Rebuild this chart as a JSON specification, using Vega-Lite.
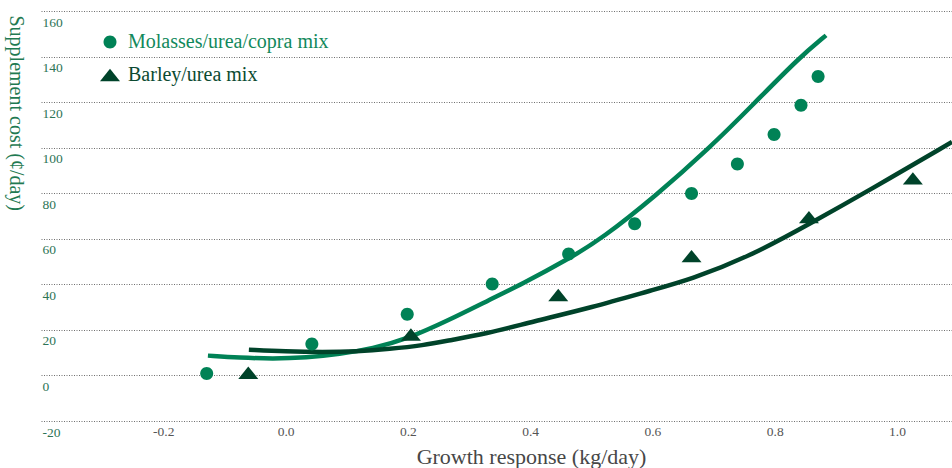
{
  "$schema": "https://vega.github.io/schema/vega-lite/v6.json",
  "width": 911,
  "height": 410,
  "autosize": {"type": "none"},
  "padding": {"left": 41, "top": 11, "right": 0, "bottom": 47},
  "background": "white",
  "config": {"view": {"stroke": null}, "font": "Liberation Serif"},
  "datasets": {
    "curves": [
      {"series": "Molasses/urea/copra mix", "x": -0.127, "y": 8.7},
      {"series": "Molasses/urea/copra mix", "x": -0.075, "y": 7.8},
      {"series": "Molasses/urea/copra mix", "x": -0.021, "y": 7.3},
      {"series": "Molasses/urea/copra mix", "x": 0.034, "y": 7.8},
      {"series": "Molasses/urea/copra mix", "x": 0.088, "y": 9.3},
      {"series": "Molasses/urea/copra mix", "x": 0.143, "y": 11.9},
      {"series": "Molasses/urea/copra mix", "x": 0.197, "y": 15.8},
      {"series": "Molasses/urea/copra mix", "x": 0.268, "y": 24.4},
      {"series": "Molasses/urea/copra mix", "x": 0.334, "y": 33.3},
      {"series": "Molasses/urea/copra mix", "x": 0.386, "y": 40},
      {"series": "Molasses/urea/copra mix", "x": 0.465, "y": 51.5},
      {"series": "Molasses/urea/copra mix", "x": 0.517, "y": 60},
      {"series": "Molasses/urea/copra mix", "x": 0.606, "y": 79},
      {"series": "Molasses/urea/copra mix", "x": 0.692, "y": 99.5},
      {"series": "Molasses/urea/copra mix", "x": 0.765, "y": 119},
      {"series": "Molasses/urea/copra mix", "x": 0.84, "y": 139.5},
      {"series": "Molasses/urea/copra mix", "x": 0.884, "y": 149.3},
      {"series": "Barley/urea mix", "x": -0.06, "y": 11.3},
      {"series": "Barley/urea mix", "x": 0.0, "y": 10.5},
      {"series": "Barley/urea mix", "x": 0.061, "y": 10.2},
      {"series": "Barley/urea mix", "x": 0.116, "y": 10.5},
      {"series": "Barley/urea mix", "x": 0.17, "y": 11.6},
      {"series": "Barley/urea mix", "x": 0.225, "y": 13.2},
      {"series": "Barley/urea mix", "x": 0.27, "y": 15.5},
      {"series": "Barley/urea mix", "x": 0.328, "y": 18.3},
      {"series": "Barley/urea mix", "x": 0.405, "y": 23.7},
      {"series": "Barley/urea mix", "x": 0.5, "y": 29.8},
      {"series": "Barley/urea mix", "x": 0.6, "y": 37.5},
      {"series": "Barley/urea mix", "x": 0.661, "y": 42},
      {"series": "Barley/urea mix", "x": 0.759, "y": 52.2},
      {"series": "Barley/urea mix", "x": 0.86, "y": 67},
      {"series": "Barley/urea mix", "x": 0.956, "y": 81.5},
      {"series": "Barley/urea mix", "x": 1.09, "y": 102.5}
    ],
    "points": [
      {"series": "Molasses/urea/copra mix", "x": -0.129, "y": 0.8},
      {"series": "Molasses/urea/copra mix", "x": 0.043, "y": 13.8},
      {"series": "Molasses/urea/copra mix", "x": 0.199, "y": 26.9},
      {"series": "Molasses/urea/copra mix", "x": 0.338, "y": 40.2},
      {"series": "Molasses/urea/copra mix", "x": 0.463, "y": 53.3},
      {"series": "Molasses/urea/copra mix", "x": 0.571, "y": 66.6},
      {"series": "Molasses/urea/copra mix", "x": 0.664, "y": 79.9},
      {"series": "Molasses/urea/copra mix", "x": 0.739, "y": 92.8},
      {"series": "Molasses/urea/copra mix", "x": 0.799, "y": 105.8},
      {"series": "Molasses/urea/copra mix", "x": 0.843, "y": 118.6},
      {"series": "Molasses/urea/copra mix", "x": 0.871, "y": 131.2},
      {"series": "Barley/urea mix", "x": -0.061, "y": 1.2},
      {"series": "Barley/urea mix", "x": 0.205, "y": 18},
      {"series": "Barley/urea mix", "x": 0.446, "y": 35.3},
      {"series": "Barley/urea mix", "x": 0.664, "y": 52.4},
      {"series": "Barley/urea mix", "x": 0.856, "y": 69.5},
      {"series": "Barley/urea mix", "x": 1.026, "y": 86.5}
    ]
  },
  "layer": [
    {
      "data": {"name": "curves"},
      "mark": {"type": "line", "strokeWidth": 4.5, "strokeCap": "butt", "interpolate": "basis"},
      "encoding": {
        "x": {
          "field": "x", "type": "quantitative",
          "scale": {"domain": [-0.4, 1.09], "nice": false, "zero": false},
          "axis": {
            "grid": false, "domain": false, "ticks": false, "tickSize": 0,
            "values": [-0.2, 0, 0.2, 0.4, 0.6, 0.8, 1.0],
            "labelExpr": "replace(format(datum.value, '.1f'), '\u2212', '-')",
            "labelFont": "Liberation Serif", "labelFontSize": 13.5, "labelColor": "#555555",
            "labelPadding": 3, "labelFlush": false, "labelOverlap": false,
            "title": "Growth response (kg/day)",
            "titleFont": "Liberation Serif", "titleFontSize": 22, "titleFontWeight": "normal",
            "titleColor": "#474747", "titleX": 490, "titleY": 42,
            "titleAlign": "center", "titleBaseline": "alphabetic"
          }
        },
        "y": {
          "field": "y", "type": "quantitative",
          "scale": {"domain": [-20, 160], "nice": false, "zero": false},
          "axis": {
            "grid": true, "gridColor": "#6f6f6f", "gridDash": [1, 1.5], "gridWidth": 1,
            "domain": false, "ticks": false, "tickSize": 0,
            "values": [-20, 0, 20, 40, 60, 80, 100, 120, 140, 160],
            "labelExpr": "replace(format(datum.value, 'd'), '\u2212', '-')",
            "labelAlign": "left", "labelBaseline": "top", "labelPadding": -1, "labelOffset": 4,
            "labelFont": "Liberation Serif", "labelFontSize": 13.5, "labelColor": "#2d7456",
            "labelOverlap": false, "labelFlush": false, "labelBound": false,
            "title": "Supplement cost (¢/day)",
            "titleAngle": 90, "titleAlign": "left", "titleBaseline": "middle",
            "titleX": -26, "titleY": 4,
            "titleFont": "Liberation Serif", "titleFontSize": 20, "titleFontWeight": "normal",
            "titleColor": "#1f7a52"
          }
        },
        "stroke": {
          "field": "series", "type": "nominal",
          "scale": {"range": ["#00432a", "#008256"]},
          "legend": null
        }
      }
    },
    {
      "data": {"name": "points"},
      "mark": {"type": "point", "filled": true, "size": 400, "opacity": 1, "strokeWidth": 0},
      "encoding": {
        "x": {"field": "x", "type": "quantitative"},
        "y": {"field": "y", "type": "quantitative"},
        "color": {
          "field": "series", "type": "nominal",
          "scale": {"domain": ["Molasses/urea/copra mix", "Barley/urea mix"], "range": ["#008256", "#00432a"]},
          "legend": {
            "orient": "top-left", "offset": 21, "symbolOffset": 38, "title": null,
            "padding": 0, "rowPadding": 13, "labelOffset": 8, "labelLimit": 500,
            "labelFont": "Liberation Serif", "labelFontSize": 20,
            "symbolSize": 400, "symbolStrokeWidth": 0, "symbolOpacity": 1,
            "encode": {"labels": {"update": {"fill": {"signal": "datum.value === 'Barley/urea mix' ? '#0b4a31' : '#12895c'"}}}}
          }
        },
        "shape": {
          "field": "series", "type": "nominal",
          "scale": {
            "domain": ["Molasses/urea/copra mix", "Barley/urea mix"],
            "range": ["M0.65,0A0.65,0.65,0,1,1,-0.65,0A0.65,0.65,0,1,1,0.65,0Z", "M-1,0.62L1,0.62L0,-0.62Z"]
          },
          "legend": {
            "orient": "top-left", "offset": 21, "symbolOffset": 38, "title": null,
            "padding": 0, "rowPadding": 13, "labelOffset": 8, "labelLimit": 500,
            "labelFont": "Liberation Serif", "labelFontSize": 20,
            "symbolSize": 400, "symbolStrokeWidth": 0, "symbolOpacity": 1,
            "encode": {"labels": {"update": {"fill": {"signal": "datum.value === 'Barley/urea mix' ? '#0b4a31' : '#12895c'"}}}}
          }
        }
      }
    }
  ]
}
